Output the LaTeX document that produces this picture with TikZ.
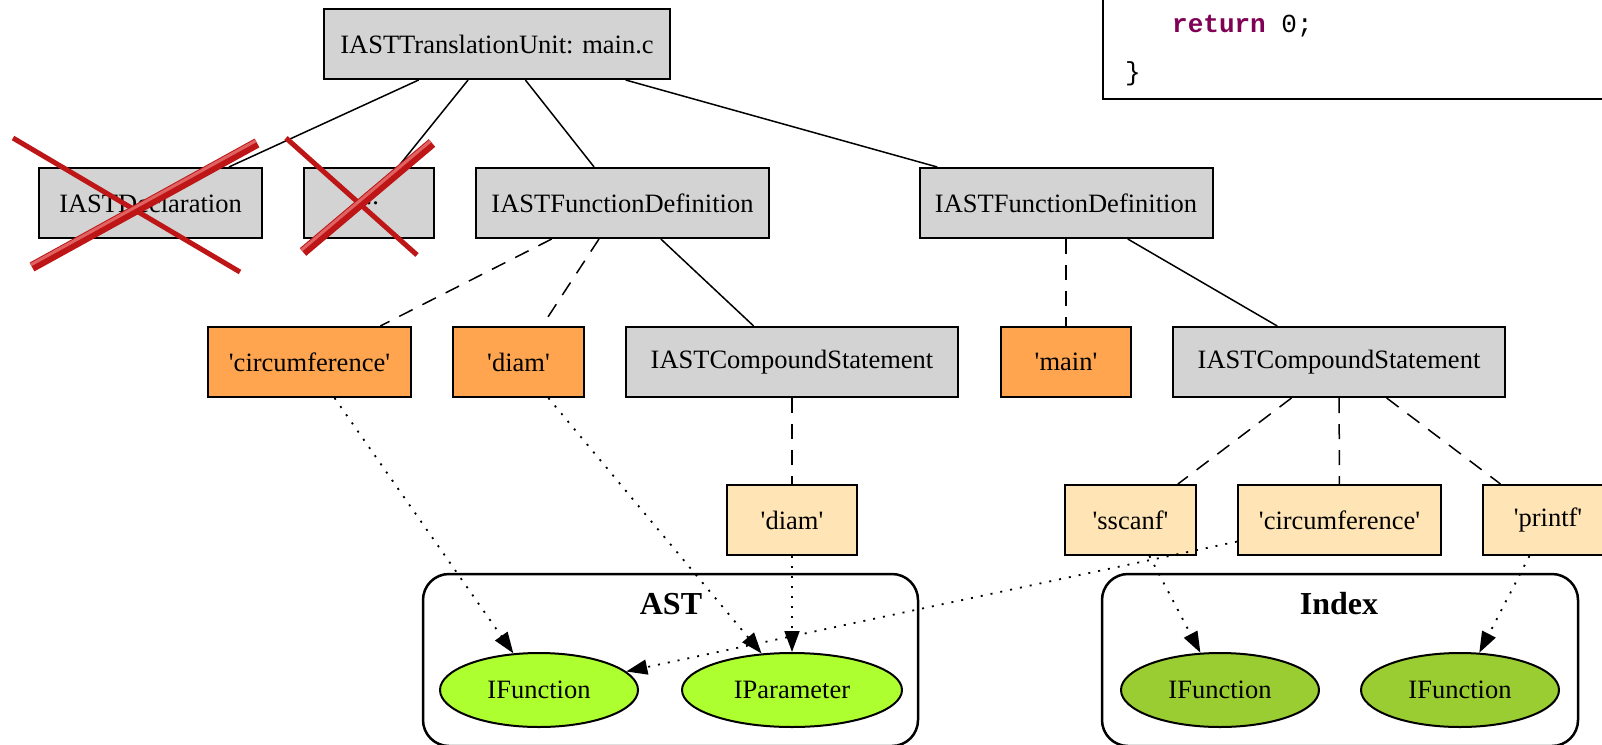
\documentclass[tikz,border=0pt]{standalone}
\usepackage{fontspec}
\setmainfont{Liberation Serif}
\setmonofont{Liberation Mono}
\usetikzlibrary{shapes.geometric,arrows.meta}
\definecolor{astgray}{HTML}{D3D3D3}
\definecolor{nameorange}{HTML}{FFA54F}
\definecolor{refbeige}{HTML}{FFE4B5}
\definecolor{bindlime}{HTML}{ADFF2F}
\definecolor{indexgreen}{HTML}{9ACD32}
\definecolor{keyword}{HTML}{7F0055}
\definecolor{crossred}{HTML}{BE1616}
\definecolor{crosslight}{HTML}{E06262}
\newcommand{\sq}{\textquotesingle}
\begin{document}
\begin{tikzpicture}[x=1pt,y=-1pt,
  box/.style={rectangle, draw=black, line width=2pt, inner sep=0pt,
    minimum height=70pt, font=\fontsize{26.5}{31}\selectfont},
  astnode/.style={box, fill=astgray},
  namenode/.style={box, fill=nameorange},
  refnode/.style={box, fill=refbeige},
  binding/.style={ellipse, draw=black, line width=2pt, inner sep=0pt,
    minimum height=74pt, font=\fontsize{26.5}{31}\selectfont},
  cluster/.style={rectangle, rounded corners=26pt, draw=black,
    line width=2.5pt, inner sep=0pt, minimum height=172pt},
  clabel/.style={font=\fontsize{32}{38}\selectfont\bfseries},
  child/.style={line width=1.5pt},
  nameedge/.style={line width=1.5pt, dash pattern=on 15pt off 11pt},
  resolves/.style={line width=1.8pt, dash pattern=on 2pt off 8pt,
    -{Triangle[length=21pt,width=15pt]}},
  thinstrike/.style={crossred, line width=5pt},
  thickstrike/.style={crossred, line width=10pt},
  strikeshine/.style={crosslight, line width=3pt}
]
\useasboundingbox (0,0) rectangle (1602,744);
\clip (0,0) rectangle (1602,744);
\fill[white] (0,0) rectangle (1602,744);

% code listing frame (upper right)
\draw[line width=2.5pt] (1103,-20) -- (1103,99) -- (1640,99);
\node[anchor=base west, inner sep=0pt, font=\fontsize{26}{31}\ttfamily] (retline) at (1172,32)
  {\textcolor{keyword}{\bfseries return} 0;};
\node[anchor=base west, inner sep=0pt, font=\fontsize{26}{31}\ttfamily] (closebrace) at (1125,80) {\}};

% binding clusters
\node[cluster, minimum width=495pt] (astbox) at (670.5,660) {};
\node[clabel] (astlabel) at (671,604) {AST};
\node[cluster, minimum width=476pt] (idxbox) at (1340,660) {};
\node[clabel] (idxlabel) at (1339,604) {Index};

% AST nodes
\node[astnode, minimum width=346pt] (tu) at (497,44) {IASTTranslationUnit: main.c};
\node[astnode, minimum width=223pt] (decl) at (150.5,203) {IASTDeclaration};
\node[astnode, minimum width=130pt] (dots) at (369,203) {...};
\node[astnode, minimum width=293pt] (fdl) at (622.5,203) {IASTFunctionDefinition};
\node[astnode, minimum width=293pt] (fdr) at (1066,203) {IASTFunctionDefinition};

\node[namenode, minimum width=203pt] (circO) at (309.5,362) {\sq circumference\sq};
\node[namenode, minimum width=131pt] (diamO) at (518.5,362) {\sq diam\sq};
\node[astnode, minimum width=332pt] (csl) at (792,362) {IASTCompoundStatement};
\node[namenode, minimum width=130pt] (mainO) at (1066,362) {\sq main\sq};
\node[astnode, minimum width=332pt] (csr) at (1339,362) {IASTCompoundStatement};

\node[refnode, minimum width=130pt] (diamL) at (792,520) {\sq diam\sq};
\node[refnode, minimum width=131pt] (sscanf) at (1130.5,520) {\sq sscanf\sq};
\node[refnode, minimum width=203pt] (circL) at (1339.5,520) {\sq circumference\sq};
\node[refnode, minimum width=130pt] (printf) at (1548,520) {\sq printf\sq};

% bindings
\node[binding, fill=bindlime, minimum width=198pt] (astfn) at (539,690) {IFunction};
\node[binding, fill=bindlime, minimum width=220pt] (astparam) at (792,690) {IParameter};
\node[binding, fill=indexgreen, minimum width=198pt] (idxfn1) at (1220,690) {IFunction};
\node[binding, fill=indexgreen, minimum width=198pt] (idxfn2) at (1460,690) {IFunction};

% tree edges
\draw[child] (tu) -- (decl);
\draw[child] (tu) -- (dots);
\draw[child] (tu) -- (fdl);
\draw[child] (tu) -- (fdr);
\draw[nameedge] (fdl) -- (circO);
\draw[nameedge] (fdl) -- (diamO);
\draw[child] (fdl) -- (csl);
\draw[nameedge] (fdr) -- (mainO);
\draw[child] (fdr) -- (csr);
\draw[nameedge] (csl) -- (diamL);
\draw[nameedge] (csr) -- (sscanf);
\draw[nameedge] (csr) -- (circL);
\draw[nameedge] (csr) -- (printf);

% name resolution
\draw[resolves] (circO) -- (astfn);
\draw[resolves] (diamO) -- (astparam);
\draw[resolves] (diamL) -- (astparam);
\draw[resolves] (circL) -- (astfn);
\draw[resolves] (sscanf) -- (idxfn1);
\draw[resolves] (printf) -- (idxfn2);

% struck-out declarations
\draw[thinstrike] (13,138) -- (240,272);
\draw[thinstrike] (286,138) -- (417,255);
\draw[thickstrike] (32,267) -- (257,143);
\draw[strikeshine] (30.8,264.8) -- (255.8,140.8);
\draw[thickstrike] (303,252) -- (432,143);
\draw[strikeshine] (301.4,250.1) -- (430.4,141.1);
\end{tikzpicture}
\end{document}
